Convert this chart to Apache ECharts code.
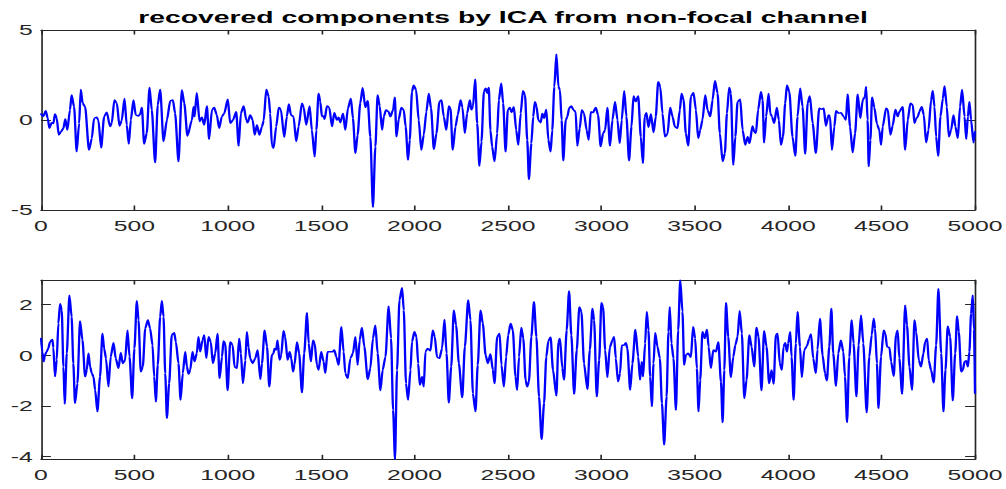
<!DOCTYPE html>
<html>
<head>
<meta charset="utf-8">
<script src="https://cdn.jsdelivr.net/npm/echarts@6/dist/echarts.min.js"></script>
<style>
html,body{margin:0;padding:0;background:#fff;overflow:hidden}
#wrap{width:1006px;height:489px;overflow:hidden;background:#fff}
#chart{width:610px;height:489px;transform:scaleX(1.649180);transform-origin:0 0}
</style>
</head>
<body>
<div id="wrap"><div id="chart"></div></div>
<script>
// ---- data (sample index, amplitude) ----
const titleText = 'recovered components by ICA from non-focal channel';
const xTicks = [0, 500, 1000, 1500, 2000, 2500, 3000, 3500, 4000, 4500, 5000];
const topYTicks = [-5, 0, 5];
const bottomYTicks = [-4, -2, 0, 2];
const topRange = [-5, 5];
const bottomRange = [-4.11, 2.96];

const topComponent = [
[0,0.33],[12,0.19],[25,0.52],[36,0.1],[45,-0.46],[57,-0.15],[66,-0.2],[75,0.33],[84,0.1],[95,-0.83],
[107,-0.65],[120,-0.46],[130,0.06],[141,-0.56],[155,0.56],[164,1.39],[177,0.74],[191,-1.76],[204,-0.19],[213,1.7],
[223,0.93],[236,0.74],[257,-1.67],[272,-1.02],[284,0.09],[298,0.15],[307,0],[322,-1.54],[338,0.19],[352,0.43],
[370,-0.37],[379,-0.15],[393,1.11],[406,0.93],[420,-0.33],[432,-0.04],[447,1.2],[459,-0.28],[470,-1.33],[481,0],
[495,1.11],[507,0.28],[522,0.22],[531,0.33],[540,0.7],[552,-1.33],[566,-0.74],[581,1.81],[593,0.56],[611,-2.37],
[625,0.83],[638,1.7],[656,-1.2],[674,0],[692,1.07],[706,1.11],[718,0.37],[736,-2.31],[754,1.67],[767,0.93],
[784,-0.89],[808,0],[817,0.74],[822,0.19],[834,1.52],[849,-0.09],[861,0.15],[874,-0.28],[888,0.78],[900,-1.07],
[915,0.56],[927,0.7],[941,0.28],[954,-0.46],[968,0.19],[981,0.37],[1000,1.15],[1013,-0.19],[1028,0],[1045,0.46],
[1058,-1.44],[1070,0.37],[1085,0.78],[1099,0],[1106,-0.15],[1120,0.28],[1133,0],[1144,-0.83],[1156,-0.28],[1169,-0.83],
[1183,-0.37],[1192,-0.04],[1206,1.7],[1219,1.3],
[1227,0.37],[1236,-1.39],[1245,-1.57],[1259,-0.37],[1273,0.7],[1284,0.59],[1302,-0.96],[1316,0.19],[1327,0.89],[1338,0.28],
[1352,0.19],[1366,-1.2],[1379,-0.37],[1397,0.93],[1406,0.7],[1420,-0.28],[1438,0.78],[1450,-0.56],[1465,-2.04],[1474,-0.56],
[1486,1.48],[1495,1.02],[1504,0.19],[1513,0.22],[1518,0.04],[1531,0.78],[1543,0.7],[1558,-0.37],[1570,0.41],[1584,0],
[1593,0.15],[1602,-0.15],[1617,0.37],[1629,-0.56],[1643,0.65],[1659,1.2],[1670,0.09],[1683,-1.85],[1695,-0.83],[1709,0.93],
[1722,1.8],[1736,0.7],[1749,1.07],[1763,-0.93],[1777,-4.85],[1790,-1.48],[1802,1.39],[1813,0.78],[1826,-0.56],[1835,0.19],
[1847,0.56],[1861,0.46],[1870,0.19],[1885,0.56],[1894,1.26],[1903,-0.93],[1915,0.04],[1929,0.7],[1942,0.56],[1952,-0.37],
[1965,-2.22],[1974,-1.11],[1986,1.57],[1995,1.94],[2008,1.67],[2022,0],[2036,-1.67],[2049,-0.83],[2063,0.46],[2076,1.48],
[2088,0.65],[2103,-1.63],[2117,-0.74],[2133,1.02],[2144,1.11],[2156,0.19],[2170,-0.56],[2183,0.78],[2192,0.65],[2204,-1.67],
[2219,-0.37],[2231,0.28],[2246,1.11],[2256,0.7],[2269,-0.74],[2281,0.37],[2296,1.11],[2304,0.56],[2313,0.78],[2324,2.26],
[2335,-0.19],[2347,-2.56],[2358,-1.2],[2371,1.57],[2381,1.76],[2389,1.48],[2397,1.81],[2406,-0.56],[2415,-1.48],[2428,-2.31],
[2442,-0.74],[2451,1.11],[2464,2.04],[2474,0.93],[2487,-1.76],[2499,0.56],[2510,0.7],[2519,0.41],[2531,0.74],[2544,-0.56],
[2555,-1.39],
[2568,0.37],[2580,1.63],[2591,1.39],[2603,-1.11],[2612,-3.3],[2625,-1.3],[2635,0.19],[2644,1.02],[2653,0.74],[2662,0],
[2675,-0.15],[2684,0.37],[2693,0.09],[2705,0.59],[2716,-1.11],[2728,-1.76],[2737,-0.56],[2748,1.85],[2759,3.65],[2770,1.85],
[2778,1.67],[2787,0],[2796,-2.26],[2809,0],[2818,0.19],[2827,0.65],[2839,0.78],[2850,0.56],[2862,0.46],[2871,-1.44],
[2884,-0.46],[2895,0.56],[2907,0.37],[2921,-0.56],[2932,-1.11],[2943,0.46],[2955,0.41],[2970,0.7],[2982,0.28],[2996,-1.48],
[3009,-0.74],[3020,-0.56],[3032,0.7],[3046,-1.44],[3059,0],[3073,1.02],[3086,0],[3098,-1.3],[3109,0],[3122,1.63],
[3134,0.19],[3148,-2.26],[3161,-0.37],[3172,1.33],[3184,1.02],[3197,1.33],[3211,-0.93],[3222,-2.41],[3232,0.19],[3241,0.41],
[3252,-0.41],[3265,0.33],[3279,-0.7],[3291,0.19],[3304,2.13],[3315,1.85],[3327,0.37],[3340,-0.93],[3354,-0.78],[3368,0.7],
[3381,0.19],[3393,-0.37],[3407,-0.46],[3420,0.56],[3429,1.48],[3440,1.11],[3452,-0.74],[3465,-1.44],[3479,1.3],[3493,1.52],
[3506,0.56],[3518,-1.02],[3529,-0.56],[3541,0],[3556,1.39],[3568,0.56],[3583,0.19],[3595,1.11],[3608,2.19],[3622,1.48],
[3634,-0.74],[3649,-2.31],[3661,-1.85],[3672,0.37],[3684,1.81],[3693,1.48],[3706,-2.5],[3717,-0.93],[3729,1.02],[3743,1.15],
[3756,-0.56],[3770,-1.39],[3783,-0.93],[3793,-1.3],
[3809,-0.33],[3818,-0.65],[3827,-0.74],[3839,0.56],[3854,1.57],[3863,1.11],[3871,-1.26],[3882,0.19],[3895,1.48],[3904,0.37],
[3913,0.19],[3925,-0.19],[3939,0.7],[3950,0],[3961,-1.39],[3972,-0.93],[3984,0.93],[3993,1.94],[4006,1.57],[4023,-0.93],
[4038,-2.0],[4050,0.19],[4064,1.76],[4077,0.74],[4091,-1.89],[4104,0.93],[4116,1.33],[4131,-0.19],[4148,-1.85],[4166,0.65],
[4179,0.59],[4190,0.65],[4202,-0.33],[4216,0.28],[4224,0.19],[4234,-1.67],[4247,-0.37],[4256,0.52],[4270,0.37],[4282,0.41],
[4297,0.19],[4309,0],[4318,1.44],[4331,-0.37],[4345,-1.81],[4358,-0.74],[4372,1.44],[4386,0.09],[4399,1.11],[4411,1.3],
[4417,1.85],[4425,0],[4431,-2.59],[4440,-1.11],[4449,1.26],[4461,0.7],[4475,-0.22],[4488,-0.56],[4497,-1.39],[4506,-0.37],
[4524,0.65],[4533,0.59],[4547,-0.83],[4559,-0.33],[4574,0.59],[4586,0.19],[4595,0.46],[4613,0.74],[4626,-1.67],[4640,0],
[4654,0.93],[4667,0.83],[4676,-0.19],[4685,0.09],[4694,0.19],[4702,0.46],[4715,0.74],[4726,0.28],[4738,-1.26],[4751,-0.56],
[4765,1.11],[4774,1.63],[4783,0.74],[4792,-0.93],[4803,-2.0],[4815,0.19],[4828,1.2],[4837,1.89],[4849,0.74],[4860,-0.93],
[4872,-0.56],[4885,0.28],[4895,-0.37],[4908,-1.02],[4920,0.74],[4931,1.7],[4944,0.19],[4953,-1.07],[4962,0.19],[4970,1.02],
[4979,0],[4992,-1.26],[5000,-0.65]
];

const bottomComponent = [
[0,0.66],[7,0.13],[14,-0.26],[21,0],[30,0.13],[39,0.26],[48,0.52],[61,0.62],[66,0.3],[75,-0.85],
[84,-0.2],[93,1.25],[102,2.03],[111,1.77],[120,-0.46],[127,-1.93],[138,0.07],[152,2.36],[164,1.51],[173,-0.33],
[182,-1.9],[195,-1.12],[209,1.35],[222,0.59],[236,-0.85],[245,-0.59],[254,0.07],[263,-0.46],[272,-0.72],[281,-0.85],
[290,-1.38],[302,-2.23],[316,-0.85],[329,0.85],[338,0.26],[348,-0.13],[361,-1.25],[373,-0.07],[388,0.49],[400,-0.13],
[415,-0.52],[427,0.09],[438,-0.33],[450,-0.2],[463,0.98],[474,-0.07],[488,-1.71],[500,0.26],[513,2.14],[522,1.38],
[534,-0.66],[545,-0.46],[558,1.05],[572,1.38],[584,1.05],[597,0.39],[606,-0.85],[615,-1.84],[625,-0.39],[638,1.51],
[647,2.14],[656,1.51],[665,-0.72],[674,-2.49],[686,-1.12],[700,0.79],[713,0.88],[722,0.52],[736,-0.33],[747,-1.77],
[759,-0.72],[772,0.13],[781,-0.46],[790,-0.75],[799,-0.59],[811,0.13],[822,-0.26],[834,0.07],[843,0.72],[852,0.13],
[865,0.59],[874,0.79],[885,-0.13],[897,0.72],[909,0.52],[920,-0.33],[933,0.07],[945,0.85],[956,-0.92],[969,-0.07],
[977,0.56],[986,0.46],[999,-1.4],[1013,0.52],[1026,0.39],[1036,-0.46],[1049,-0.52],[1061,0.66],[1070,0.07],[1081,-1.12],
[1094,-0.2],[1102,0.92],[1111,0.3],[1120,-0.13],[1133,-0.33],[1147,-0.13],[1160,0.2],[1174,-0.96],[1183,-0.33],[1197,0.98],
[1210,0.33],[1222,-1.25],
[1236,0],[1245,0.07],[1250,0.26],[1259,0.2],[1266,0.59],[1277,-0.2],[1286,0],[1298,0.96],[1307,0.72],[1320,-0.2],
[1331,0.13],[1340,-0.13],[1349,-0.66],[1357,-0.39],[1370,0.52],[1382,0.07],[1397,-1.48],[1409,0.07],[1424,1.67],[1433,0.46],
[1445,-0.26],[1456,0.59],[1465,0.46],[1477,-0.39],[1486,-0.59],[1500,0.13],[1513,-0.26],[1522,-0.72],[1534,0.13],[1549,0.13],
[1561,0.13],[1570,0.2],[1581,-0.07],[1593,-0.39],[1608,1.12],[1620,0.13],[1629,-0.72],[1642,-0.92],[1656,-0.13],[1670,0.07],
[1683,0.72],[1695,-0.39],[1706,0.59],[1718,1.09],[1731,0.33],[1749,-0.96],[1763,-0.52],[1777,0.66],[1790,1.18],[1802,0.07],
[1817,-1.4],[1829,-0.59],[1844,-0.07],[1861,1.93],[1874,0.66],[1885,-2.17],[1895,-4.11],[1906,-0.59],[1919,2.17],[1933,2.66],
[1942,1.77],[1954,-1.12],[1965,-1.77],[1978,-0.59],[1986,0.52],[1999,0.92],[2010,0.72],[2019,-0.33],[2028,-1.18],[2040,-0.85],
[2049,-1.25],[2058,0.13],[2070,0.26],[2085,0.17],[2097,0.98],[2108,0.72],[2120,-0.09],[2133,-0.13],[2147,0.26],[2160,1.4],
[2171,0.07],[2183,-1.88],[2196,-0.46],[2210,1.77],[2222,1.18],[2237,-0.33],[2255,-1.68],[2269,0.33],[2287,2.17],[2299,1.38],
[2312,-1.51],[2326,-2.23],[2338,-0.39],[2353,1.77],[2365,1.25],[2380,0],[2392,-0.33],[2406,0.04],[2419,-0.59],[2428,-1.12],
[2442,0.72],[2455,0.85],[2465,-0.39],[2478,-1.25],[2490,-0.07],[2501,0.79],[2514,1.25],[2526,0.98],[2540,-0.85],[2549,-1.38],
[2559,-0.07],[2571,1.09],[2582,0.66],[2594,-0.98],[2603,-1.25],[2612,-1.05],[2625,0.72],[2639,2.1],[2652,0.72],[2666,-1.64],
[2680,-3.32],[2693,-1.9],[2705,-0.07],[2716,0.56],[2728,0.7],[2741,-0.59],[2759,-1.61],[2770,0.52],[2778,0.66],[2791,-0.52],
[2800,-0.98],[2814,0.98],[2827,2.53],[2839,0.79],[2854,-1.54],[2868,0.2],[2882,1.9],[2893,1.71],[2907,-0.33],[2925,-1.35],
[2938,0.2],[2952,1.84],[2961,1.38],[2975,-1.64],[2988,-0.2],[3000,2.06],[3009,1.9],[3020,0.2],[3032,-0.88],[3045,0.3],
[3059,0.59],[3068,0.72],[3077,-0.13],[3089,-1.05],[3100,-0.72],[3109,0.39],[3122,0.39],[3131,0.49],[3139,0.26],[3154,-1.38],
[3166,-0.33],[3182,1.01],[3197,-0.07],[3207,-0.98],[3216,-0.26],[3223,-0.85],[3234,0.46],[3243,1.71],[3252,0.98],[3261,-0.85],
[3270,-2.03],[3279,-0.33],[3288,0.88],[3300,0.33],[3313,-0.13],[3324,-1.9],[3336,-3.54],[3349,-1.64],[3359,0.92],[3366,1.9],
[3375,0.46],[3386,-0.13],[3399,-2.17],[3411,0.98],[3422,2.96],[3434,1.71],[3443,-0.39],[3452,0],[3465,0.07],[3479,-0.09],
[3491,1.12],[3502,0.66],[3511,-0.52],[3520,-2.23],[3529,-0.98],[3541,0.92],[3554,0.66],[3565,1.01],[3574,0.33],[3586,-0.52],
[3599,0.2],[3613,0.13],[3626,0.52],[3640,-1.05],[3649,-2.66],[3658,-0.59],[3667,2.06],[3679,0.72],[3693,-0.88],[3706,-0.07],
[3717,0.39],[3729,0.72],[3740,1.75],[3752,0.85],[3765,-1.71],[3777,-0.98],[3792,0.79],
[3804,0.33],[3818,-0.46],[3830,1.09],[3841,0.72],[3857,-1.4],[3871,0.96],[3884,0.33],[3898,-1.12],[3911,-0.59],[3922,-1.14],
[3934,0.79],[3943,0.85],[3955,-0.33],[3966,-0.59],[3975,0.33],[3984,0.49],[3993,0.13],[4000,0.46],[4011,0.92],[4018,-0.07],
[4029,-1.77],[4041,0.46],[4050,1.71],[4063,0.33],[4073,-0.88],[4086,0.2],[4100,0.35],[4113,0.66],[4122,0.83],[4134,-0.13],
[4148,-0.72],[4157,0.22],[4170,1.44],[4184,0],[4197,-0.72],[4207,-1.01],[4220,0.33],[4231,1.84],[4241,0.07],[4256,-1.22],
[4268,0.07],[4282,0.59],[4295,0.13],[4304,-0.85],[4315,-2.66],[4327,-0.07],[4340,1.38],[4350,0.46],[4365,-1.64],[4377,0.39],
[4390,1.57],[4402,0.46],[4420,-2.27],[4434,-0.07],[4447,0.79],[4458,1.44],[4465,1.05],[4475,-0.33],[4483,-2.1],[4497,-0.07],
[4511,0.98],[4520,0.85],[4529,0.33],[4542,0.3],[4551,-0.26],[4565,-0.83],[4577,0.79],[4586,0.98],[4595,-0.13],[4610,-1.54],
[4626,1.97],[4636,1.18],[4649,-0.46],[4663,-1.38],[4676,1.38],[4685,0.92],[4699,-0.2],[4711,-0.46],[4724,0.07],[4733,0.52],
[4744,0.66],[4752,-0.2],[4765,-0.59],[4779,-1.09],[4792,0.39],[4804,2.62],[4819,0.07],[4831,-2.23],[4842,-0.59],[4854,1.14],
[4867,0.72],[4881,-1.8],[4894,0.07],[4904,1.54],[4913,0.92],[4926,-0.66],[4935,-0.59],[4944,-0.26],[4953,-0.22],[4962,-0.46],
[4970,0.13],[4979,1.64],[4988,2.36],[4995,0.98],[5000,-1.51]
];

// ---- layout (chart is drawn in a 610px-wide space, then stretched horizontally like the reference figure) ----
const STRETCH = 1006 / 610;
const plotLeft = 41 / STRETCH;
const plotRight = 610 - 975 / STRETCH;
const AXIS_COLOR = '#262626';
const FONT = 'Liberation Sans, Arial, Helvetica, sans-serif';
const plainNumber = v => String(v);

function xAxisFor(gi, pos, showLabel) {
  return {
    type: 'value', gridIndex: gi, position: pos,
    min: xTicks[0], max: xTicks[xTicks.length - 1], interval: xTicks[1] - xTicks[0],
    axisLine: { show: true, onZero: false, lineStyle: { color: AXIS_COLOR, width: 1 } },
    axisTick: { show: true, inside: true, length: 4.5, lineStyle: { color: AXIS_COLOR, width: 1 } },
    axisLabel: { show: showLabel, margin: 8, color: AXIS_COLOR, fontFamily: FONT, fontSize: 15, formatter: plainNumber },
    splitLine: { show: false }
  };
}
function yAxisFor(gi, pos, showLabel, range, ticks) {
  return {
    type: 'value', gridIndex: gi, position: pos,
    min: range[0], max: range[1],
    axisLine: { show: true, onZero: false, lineStyle: { color: AXIS_COLOR, width: 1 } },
    axisTick: { show: true, inside: true, length: 6, customValues: ticks, lineStyle: { color: AXIS_COLOR, width: 1 } },
    axisLabel: { show: showLabel, customValues: ticks, margin: 5, color: AXIS_COLOR, fontFamily: FONT, fontSize: 15, formatter: plainNumber },
    splitLine: { show: false }
  };
}

const lineStyleBlue = { color: '#0000ff', width: 1.4, join: 'round', cap: 'round' };

const chart = echarts.init(document.getElementById('chart'), null, { renderer: 'svg' });
chart.setOption({
  animation: false,
  backgroundColor: '#ffffff',
  title: {
    text: titleText, left: 'center', top: 4, padding: [5, 0, 5, 6],
    textStyle: { fontFamily: FONT, fontWeight: 'bold', fontSize: 17.2, color: '#000000' }
  },
  grid: [
    { left: plotLeft, right: plotRight, top: 30, height: 180, containLabel: false, outerBoundsMode: 'none' },
    { left: plotLeft, right: plotRight, top: 280, height: 179.3, containLabel: false, outerBoundsMode: 'none' }
  ],
  xAxis: [
    xAxisFor(0, 'bottom', true), xAxisFor(0, 'top', false),
    xAxisFor(1, 'bottom', true), xAxisFor(1, 'top', false)
  ],
  yAxis: [
    yAxisFor(0, 'left', true, topRange, topYTicks), yAxisFor(0, 'right', false, topRange, topYTicks),
    yAxisFor(1, 'left', true, bottomRange, bottomYTicks), yAxisFor(1, 'right', false, bottomRange, bottomYTicks)
  ],
  series: [
    { type: 'line', xAxisIndex: 0, yAxisIndex: 0, data: topComponent, showSymbol: false, symbol: 'none',
      smooth: 0.25, smoothMonotone: 'x',
      lineStyle: lineStyleBlue, itemStyle: { color: '#0000ff' }, silent: true },
    { type: 'line', xAxisIndex: 2, yAxisIndex: 2, data: bottomComponent, showSymbol: false, symbol: 'none',
      smooth: 0.25, smoothMonotone: 'x',
      lineStyle: lineStyleBlue, itemStyle: { color: '#0000ff' }, silent: true }
  ]
});
</script>
</body>
</html>
